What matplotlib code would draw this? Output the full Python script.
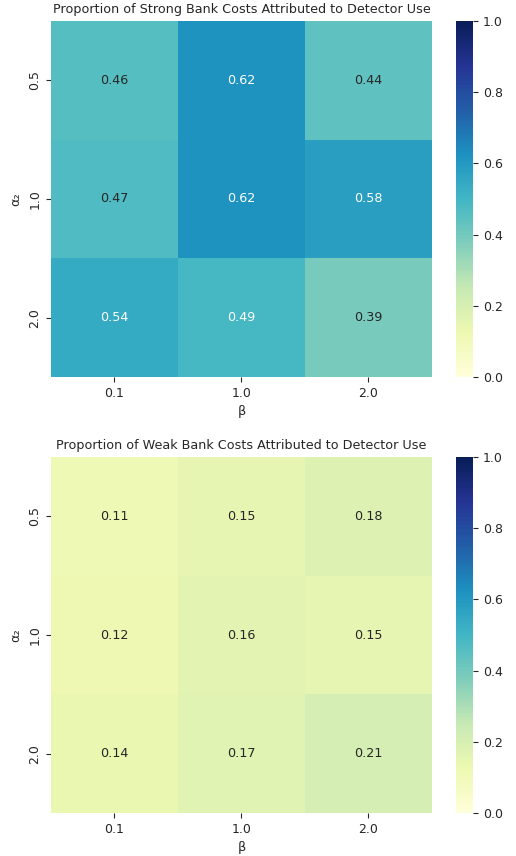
import matplotlib
matplotlib.use('Agg')
import matplotlib.pyplot as plt
import seaborn as sns
import numpy as np

alphas = ['0.5', '1.0', '2.0']
betas = ['0.1', '1.0', '2.0']
strong_props = [[0.46, 0.62, 0.44],
                [0.47, 0.62, 0.58],
                [0.54, 0.49, 0.39]]
weak_props = [[0.11, 0.15, 0.18],
              [0.12, 0.16, 0.15],
              [0.14, 0.17, 0.21]]
titles = ['Proportion of Strong Bank Costs Attributed to Detector Use',
          'Proportion of Weak Bank Costs Attributed to Detector Use']

sns.set_style('ticks')
plt.rcParams['font.family'] = ['DejaVu Sans']
plt.rcParams['font.size'] = 9

fig = plt.figure(figsize=(5.16, 8.56), dpi=100)
positions = [0.5596, 0.0502]
for data, title, bottom in zip([strong_props, weak_props], titles, positions):
    ax = fig.add_axes([0.0988, bottom, 0.7384, 0.4159])
    cax = fig.add_axes([0.8837, bottom, 0.0329, 0.4159])
    sns.heatmap(np.array(data), ax=ax, cbar_ax=cax, cmap='YlGnBu', vmin=0, vmax=1,
                annot=True, fmt='.2f', xticklabels=betas, yticklabels=alphas,
                annot_kws={'fontsize': 9.2})
    ax.set_title(title, fontsize=9.2)
    ax.set_xlabel('β', fontsize=9.2)
    ax.set_ylabel('α₂', fontsize=9.2)
    ax.tick_params(labelsize=9)
    cax.tick_params(labelsize=9)

fig.savefig('out.png', dpi=100)
